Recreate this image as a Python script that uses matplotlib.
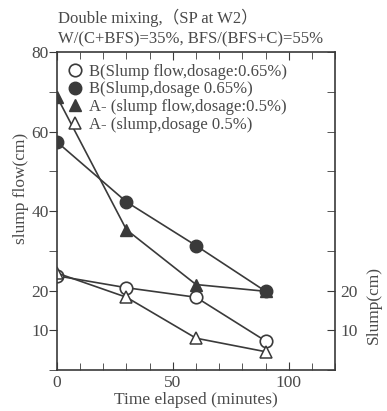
import numpy as np
import matplotlib
matplotlib.use('Agg')
from matplotlib import pyplot as plt

plt.rcParams['font.family'] = 'Liberation Serif'

# Time elapsed (minutes)
time = [0, 30, 60, 90]

# Values (cm)
b_flow = [23.7, 20.7, 18.3, 7.3]      # open circles
b_slump = [57.4, 42.3, 31.3, 19.8]    # filled circles
a_flow = [68.8, 35.3, 21.5, 19.8]     # filled triangles
a_slump = [24.4, 18.3, 8.0, 4.6]      # open triangles

labels = ['B(Slump flow,dosage:0.65%)',
          'B(Slump,dosage 0.65%)',
          'A- (slump flow,dosage:0.5%)',
          'A- (slump,dosage 0.5%)']

txt = '#4a4a4a'
ln = '#3a3a3a'

fig = plt.figure(figsize=(3.87, 4.11), dpi=100)
ax = fig.add_axes([0.147, 0.0998, 0.719, 0.7735])

ax.plot(time, b_flow, color=ln, lw=1.2, marker='o', ms=9, mfc='white', mec=ln, mew=1.2, label=labels[0])
ax.plot(time, b_slump, color=ln, lw=1.2, marker='o', ms=9, mfc=ln, mec=ln, label=labels[1])
ax.plot(time, a_flow, color=ln, lw=1.2, marker='^', ms=8.5, mfc=ln, mec=ln, label=labels[2])
ax.plot(time, a_slump, color=ln, lw=1.2, marker='^', ms=9, mfc='white', mec=ln, mew=1.1, label=labels[3])

ax.set_xlim(0, 120)
ax.set_ylim(0, 80)

ax.set_xticks([0, 50, 100])
ax.set_xticks(np.arange(0, 121, 10), minor=True)
ax.set_yticks([10, 20, 40, 60, 80])
ax.set_yticks(np.arange(0, 81, 10), minor=True)

ax.tick_params(axis='x', which='both', direction='in', top=True, colors=ln, labelcolor=txt, labelsize=12.5)
ax.tick_params(axis='x', which='major', length=6)
ax.tick_params(axis='x', which='minor', length=5)
ax.tick_params(axis='y', which='both', direction='out', length=6, colors=ln, labelcolor=txt, labelsize=12.5, pad=0)

for s in ax.spines.values():
    s.set_color(ln)
    s.set_linewidth(1.2)

ax2 = ax.twinx()
ax2.set_ylim(0, 80)
ax2.set_yticks([10, 20])
ax2.set_yticks(np.arange(0, 81, 10), minor=True)
ax2.tick_params(axis='y', which='both', direction='in', length=6, colors=ln, labelcolor=txt, labelsize=12.5, pad=4)
for s in ax2.spines.values():
    s.set_visible(False)

ax.set_xlabel('Time elapsed (minutes)', color=txt, fontsize=12.5, labelpad=1)
ax.set_ylabel('slump flow(cm)', color=txt, fontsize=12.5)
ax.yaxis.set_label_coords(-0.10, 0.57)
fig.text(0.966, 0.258, 'Slump(cm)', rotation=90, color=txt, fontsize=12.5, ha='center', va='center')

fig.text(0.15, 0.956, 'Double mixing,\uff08SP at W2\uff09', color=txt, fontsize=12, ha='left', va='center',
         family=['Liberation Serif', 'Noto Sans CJK JP'])
fig.text(0.15, 0.903, 'W/(C+BFS)=35%, BFS/(BFS+C)=55%', color=txt, fontsize=12, ha='left', va='center')

leg = ax.legend(loc='upper left', bbox_to_anchor=(0.0, 1.0), frameon=False, fontsize=12,
                handlelength=0.8, handletextpad=0.4, labelspacing=0.1, borderaxespad=0.3)
for t in leg.get_texts():
    t.set_color(txt)
for h in leg.get_lines():
    h.set_linestyle('')

fig.savefig('out.png', dpi=100)
